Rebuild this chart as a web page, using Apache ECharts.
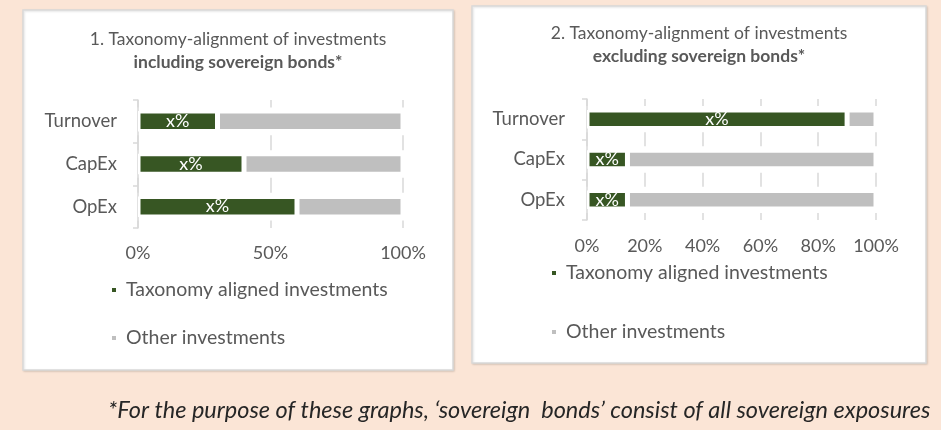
<!DOCTYPE html>
<html>
<head>
<meta charset="utf-8">
<script src="https://cdn.jsdelivr.net/npm/echarts@6/dist/echarts.min.js"></script>
<style>
html,body{margin:0;padding:0;background:#fbe5d6;}
#c{width:941px;height:430px;}
</style>
</head>
<body>
<div id="c"></div>
<script>
const categories = ['Turnover', 'CapEx', 'OpEx'];
const alignedIncl = [30, 40, 60];
const otherIncl = [70, 60, 40];
const alignedExcl = [90, 14, 14];
const otherExcl = [10, 86, 86];
const seriesNames = ['Taxonomy aligned investments', 'Other investments'];
const barLabel = 'x%';
const title1 = ['1. Taxonomy-alignment of investments', 'including sovereign bonds*'];
const title2 = ['2. Taxonomy-alignment of investments', 'excluding sovereign bonds*'];
const footnote = '*For the purpose of these graphs, \u2018sovereign  bonds\u2019 consist of all sovereign exposures';

const FONT = 'Lato';
const TXT = '#595959';
const GREEN = '#375623';
const GREY = '#bfbfbf';
const GRID_LINE = '#d9d9d9';

const chart = echarts.init(document.getElementById('c'), null, {renderer: 'canvas'});

function valueAxis(gridIndex, interval, dash, gap, offset, margin) {
  return {
    gridIndex: gridIndex, type: 'value', min: 0, max: 100, interval: interval,
    axisLabel: {formatter: '{value}%', fontSize: 18, color: TXT, fontFamily: FONT, margin: margin},
    axisLine: {show: false}, axisTick: {show: false},
    splitLine: {show: true, lineStyle: {color: GRID_LINE, width: 1.5, type: [dash, gap], dashOffset: offset}}
  };
}
function catAxis(gridIndex, margin) {
  return {
    gridIndex: gridIndex, type: 'category', data: categories, inverse: true,
    axisLine: {show: true, lineStyle: {color: GRID_LINE, width: 1.5}},
    axisTick: {show: true, length: 5, lineStyle: {color: GRID_LINE, width: 1.5}},
    axisLabel: {fontSize: 18.5, color: TXT, fontFamily: FONT, margin: margin}
  };
}
function bars(idx, aligned, other, bw) {
  return [{
    name: seriesNames[0], type: 'bar', stack: 's' + idx, xAxisIndex: idx, yAxisIndex: idx,
    data: aligned, barWidth: bw,
    itemStyle: {color: GREEN, borderColor: '#fff', borderWidth: 2.5},
    label: {show: true, position: 'inside', formatter: barLabel, color: '#fff', fontSize: 18, fontFamily: FONT},
    emphasis: {disabled: true}
  }, {
    name: seriesNames[1], type: 'bar', stack: 's' + idx, xAxisIndex: idx, yAxisIndex: idx,
    data: other, barWidth: bw,
    itemStyle: {color: GREY, borderColor: '#fff', borderWidth: 2.5},
    emphasis: {disabled: true}
  }];
}
function legend(left, top, gap) {
  return {
    data: seriesNames, orient: 'vertical', left: left, top: top, padding: 0,
    itemWidth: 6, itemHeight: 6, icon: 'rect', itemGap: gap,
    textStyle: {fontSize: 19.5, color: TXT, fontFamily: FONT, lineHeight: 22, padding: [0, 0, 0, 4]},
    selectedMode: false
  };
}
function title(lines, left, top) {
  return {
    text: lines[0] + '\n{b|' + lines[1] + '}',
    left: left, top: top, textAlign: 'center', padding: 0,
    textStyle: {fontSize: 17.5, fontWeight: 'normal', color: TXT, fontFamily: FONT, lineHeight: 23,
      rich: {b: {fontSize: 17.5, fontWeight: 'bold', color: TXT, fontFamily: FONT, lineHeight: 23}}}
  };
}

const option = {
  backgroundColor: '#fbe5d6',
  animation: false,
  title: [title(title1, 238, 28), title(title2, 699, 22)],
  legend: [legend(110, 279, 26), legend(550, 262, 37)],
  grid: [
    {left: 138, top: 100, width: 265, height: 128},
    {left: 587, top: 99, width: 289, height: 121}
  ],
  xAxis: [valueAxis(0, 50, 15, 27.67, 7.5, 16), valueAxis(1, 20, 14, 26.33, 7, 17)],
  yAxis: [catAxis(0, 21), catAxis(1, 22)],
  series: [].concat(bars(0, alignedIncl, otherIncl, 20.5), bars(1, alignedExcl, otherExcl, 18.5)),
  graphic: [
    {type: 'rect', z: -10, shape: {x: 23, y: 10, width: 430, height: 360},
      style: {fill: '#ffffff', stroke: '#d9d9d9', lineWidth: 1.5, shadowBlur: 2, shadowColor: 'rgba(0,0,0,0.12)', shadowOffsetX: 1, shadowOffsetY: 1}},
    {type: 'rect', z: -10, shape: {x: 472, y: 6, width: 454, height: 357},
      style: {fill: '#ffffff', stroke: '#d9d9d9', lineWidth: 1.5, shadowBlur: 2, shadowColor: 'rgba(0,0,0,0.12)', shadowOffsetX: 1, shadowOffsetY: 1}},
    {type: 'text', x: 108, y: 410,
      style: {text: footnote, fontSize: 23.5, fontStyle: 'italic', fontFamily: FONT, fill: '#262626', textVerticalAlign: 'middle', textAlign: 'left'}}
  ]
};
chart.setOption(option);
</script>
</body>
</html>
